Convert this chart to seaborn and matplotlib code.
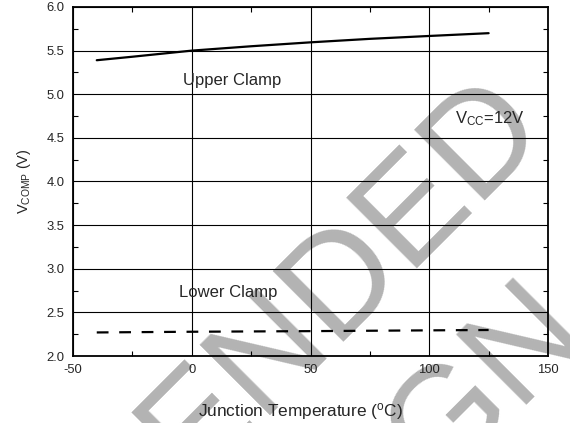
import numpy as np
import pandas as pd
import matplotlib
matplotlib.use("Agg")
import matplotlib.pyplot as plt
import seaborn as sns
from matplotlib.ticker import MultipleLocator, FormatStrFormatter

# ---- data ----
temp_upper = [-40, -25, 0, 25, 50, 75, 100, 125]
v_upper = [5.39, 5.43, 5.50, 5.55, 5.595, 5.635, 5.668, 5.70]
temp_lower = [-40, 0, 50, 100, 125]
v_lower = [2.27, 2.278, 2.285, 2.294, 2.298]
x_ticks = [-50, 0, 50, 100, 150]
y_ticks = [2.0, 2.5, 3.0, 3.5, 4.0, 4.5, 5.0, 5.5, 6.0]

sns.set_style("white")
plt.rcParams["font.family"] = ["Liberation Sans", "DejaVu Sans"]
plt.rcParams["mathtext.fontset"] = "custom"
plt.rcParams["mathtext.rm"] = "Liberation Sans"
plt.rcParams["mathtext.it"] = "Liberation Sans"
plt.rcParams["axes.unicode_minus"] = False

fig = plt.figure(figsize=(5.7, 4.23), dpi=100)
ax = fig.add_axes([73/570, 1-356/423, (548-73)/570, (356-7)/423])
ax.set_facecolor("none")

# watermark (behind axes)
wm_kw = dict(rotation=45, rotation_mode="anchor", ha="center", va="baseline",
             fontsize=103.7, color="#b3b3b3", zorder=-5, family="Liberation Sans")
fig.text(20/570, 1-665.5/423, "NOT RECOMMENDED", **wm_kw)
fig.text(143/570, 1-788.5/423, "FOR NEW DESIGN", **wm_kw)

df_u = pd.DataFrame({"T": temp_upper, "V": v_upper})
df_l = pd.DataFrame({"T": temp_lower, "V": v_lower})
sns.lineplot(data=df_u, x="T", y="V", ax=ax, color="black", lw=1.6, zorder=4)
sns.lineplot(data=df_l, x="T", y="V", ax=ax, color="black", lw=1.6, zorder=4,
             linestyle=(0, (5.3, 4.8)))

ax.set_xlim(-50, 150)
ax.set_ylim(2.0, 6.0)
ax.set_xticks(x_ticks)
ax.set_yticks(y_ticks)
ax.xaxis.set_minor_locator(MultipleLocator(25))
ax.yaxis.set_minor_locator(MultipleLocator(0.25))
ax.yaxis.set_major_formatter(FormatStrFormatter("%.1f"))
ax.tick_params(which="both", direction="in", top=True, right=True,
               bottom=True, left=True, color="black")
ax.tick_params(which="major", length=0, labelsize=9.4, pad=6)
ax.tick_params(which="minor", length=3.5, width=0.8)
ax.grid(True, which="major", color="black", lw=0.8)
for s in ax.spines.values():
    s.set_color("black")
    s.set_linewidth(1.3)

ax.set_xlabel("Junction Temperature ($^{\\mathrm{o}}$C)", fontsize=12.4, labelpad=18)
ax.xaxis.label.set_x((300-73)/475)
ax.set_ylabel("V$_{\\mathrm{COMP}}$ (V)", fontsize=10.5, labelpad=10)

ax.text(-3.7, 5.106, "Upper Clamp", fontsize=12, ha="left", va="baseline", zorder=5)
ax.text(-5.4, 2.673, "Lower Clamp", fontsize=12, ha="left", va="baseline", zorder=5)
ax.text(110.8, 4.67, "V$_{\\mathrm{CC}}$=12V", fontsize=12, ha="left", va="baseline", zorder=5)

fig.savefig("out.png", dpi=100)
